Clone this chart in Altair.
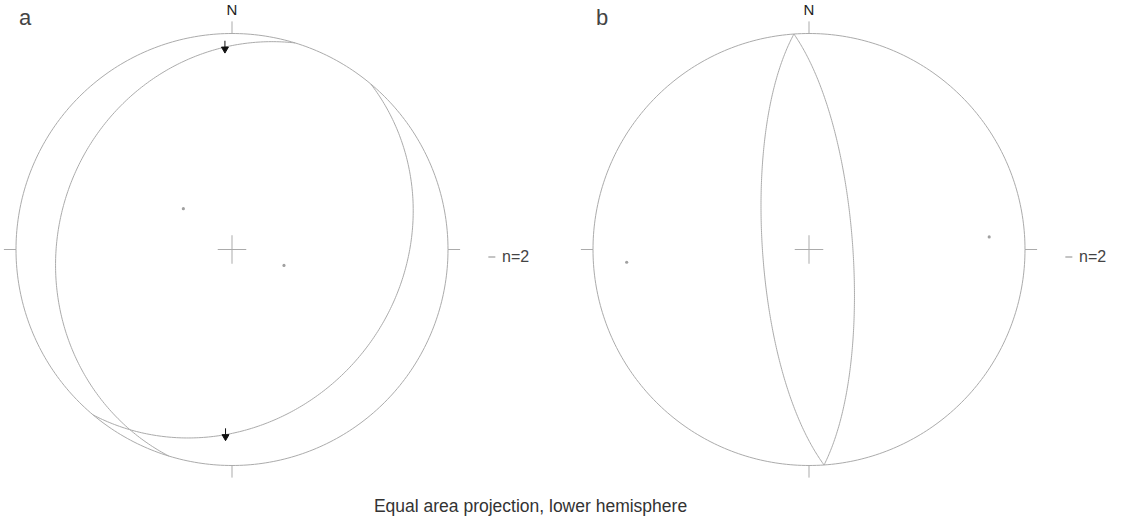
import numpy as np
import pandas as pd
import altair as alt

# ---- data -------------------------------------------------------------
# Fault planes as (dip direction, dip), lower-hemisphere equal-area nets
plane_panel = ["a", "a", "b", "b"]
plane_dipdir = [130, 287, 266, 86]
plane_dip = [24, 20.5, 72.5, 73.5]

# Slip lineations (trend) on the panel-a planes, shown with sense arrows
slip_plane = [0, 1]
slip_trend = [182, 358]

panel_names = ["a", "b"]
panel_counts = ["n=2", "n=2"]
caption = "Equal area projection, lower hemisphere"

# ---- layout (in units of the net radius) ------------------------------
W, H = 1127, 525
R_PX = 216.0
CX_PX = [232.0, 809.0]
CY_PX = 249.5
panel_x = {p: (cx - CX_PX[0]) / R_PX for p, cx in zip(panel_names, CX_PX)}
x_dom = [(0 - CX_PX[0]) / R_PX, (W - CX_PX[0]) / R_PX]
y_dom = [(CY_PX - H) / R_PX, CY_PX / R_PX]
TICK = 0.056
CROSS = 0.066


def project(trend, plunge):
    t = np.radians(trend)
    p = np.radians(plunge)
    r = np.sqrt(2.0) * np.sin((np.pi / 2 - p) / 2)
    return r * np.sin(t), r * np.cos(t)


def great_circle(dipdir, dip, n=241):
    a, d = np.radians(dipdir), np.radians(dip)
    s = np.array([np.sin(a - np.pi / 2), np.cos(a - np.pi / 2), 0.0])
    dv = np.array([np.sin(a) * np.cos(d), np.cos(a) * np.cos(d), -np.sin(d)])
    th = np.linspace(0, np.pi, n)
    v = np.outer(np.cos(th), s) + np.outer(np.sin(th), dv)
    plunge = np.degrees(np.arcsin(np.clip(-v[:, 2], -1, 1)))
    trend = np.degrees(np.arctan2(v[:, 0], v[:, 1]))
    return project(trend, plunge)


# curves: primitive circles + great circles
rows = []
for p in panel_names:
    ang = np.radians(np.linspace(0, 360, 361))
    for i, (x, y) in enumerate(zip(np.sin(ang), np.cos(ang))):
        rows.append({"id": f"prim_{p}", "o": i, "x": x + panel_x[p], "y": y})
for k, (p, dd, dp) in enumerate(zip(plane_panel, plane_dipdir, plane_dip)):
    gx, gy = great_circle(dd, dp)
    for i, (x, y) in enumerate(zip(gx, gy)):
        rows.append({"id": f"gc_{k}", "o": i, "x": x + panel_x[p], "y": y})
curves = pd.DataFrame(rows)

# short segments: cardinal ticks and centre crosses
seg = []
for p in panel_names:
    ox = panel_x[p]
    for dx, dy in [(0, 1), (1, 0), (0, -1), (-1, 0)]:
        seg.append({"x": ox + dx, "y": dy, "x2": ox + dx * (1 + TICK), "y2": dy * (1 + TICK)})
    seg.append({"x": ox - CROSS, "y": 0, "x2": ox + CROSS, "y2": 0})
    seg.append({"x": ox, "y": -CROSS, "x2": ox, "y2": CROSS})
segs = pd.DataFrame(seg)

# poles to planes
pole_rows = []
for p, dd, dp in zip(plane_panel, plane_dipdir, plane_dip):
    px, py = project((dd + 180) % 360, 90 - dp)
    pole_rows.append({"x": px + panel_x[p], "y": py})
poles = pd.DataFrame(pole_rows)

# slip arrows
arr_rows = []
for k, t in zip(slip_plane, slip_trend):
    dd, dp, p = plane_dipdir[k], plane_dip[k], plane_panel[k]
    pl = np.degrees(np.arctan(np.tan(np.radians(dp)) * np.cos(np.radians(t - dd))))
    ax_, ay_ = project(t, pl)
    arr_rows.append({"x": ax_ + panel_x[p], "y": ay_})
arrows = pd.DataFrame(arr_rows)

# text labels
north = pd.DataFrame({"x": [panel_x[p] for p in panel_names],
                      "y": [(CY_PX - 10) / R_PX] * 2, "t": ["N", "N"]})
letters = pd.DataFrame({"x": [panel_x[p] - 0.958 for p in panel_names],
                        "y": [(CY_PX - 18) / R_PX] * 2, "t": panel_names})
counts = pd.DataFrame({"x": [panel_x[p] + 1.25 for p in panel_names],
                       "y": [(CY_PX - 257) / R_PX] * 2, "t": panel_counts})
count_sym = pd.DataFrame({"x": [panel_x[p] + 1.203 for p in panel_names],
                          "y": [(CY_PX - 257) / R_PX] * 2})
cap = pd.DataFrame({"x": [(530.5 - CX_PX[0]) / R_PX], "y": [(CY_PX - 507) / R_PX], "t": [caption]})

xs = alt.Scale(domain=x_dom, nice=False, zero=False)
ys = alt.Scale(domain=y_dom, nice=False, zero=False)
X = alt.X("x:Q", scale=xs, axis=None)
Y = alt.Y("y:Q", scale=ys, axis=None)

LINE = "#ababab"
FONT = "Liberation Sans"

lines = alt.Chart(curves).mark_line(stroke=LINE, strokeWidth=1).encode(
    x=X, y=Y, detail="id:N", order="o:Q")
rules = alt.Chart(segs).mark_rule(stroke=LINE, strokeWidth=1).encode(
    x=X, y=Y, x2="x2:Q", y2="y2:Q")
pole_pts = alt.Chart(poles).mark_circle(color="#a0a0a0", size=10, opacity=1).encode(x=X, y=Y)
arrow_pts = alt.Chart(arrows).mark_point(
    shape="M0,-1L0,0M-0.55,0L0.55,0L0,0.95Z", size=160, filled=True,
    fill="#111111", stroke="#111111", strokeWidth=1, opacity=1).encode(x=X, y=Y)
north_txt = alt.Chart(north).mark_text(font=FONT, fontSize=15, color="#222222",
                                       baseline="middle", align="center").encode(x=X, y=Y, text="t:N")
letter_txt = alt.Chart(letters).mark_text(font=FONT, fontSize=22, color="#444444",
                                          baseline="middle", align="center").encode(x=X, y=Y, text="t:N")
count_txt = alt.Chart(counts).mark_text(font=FONT, fontSize=16, color="#444444",
                                        baseline="middle", align="left").encode(x=X, y=Y, text="t:N")
count_mark = alt.Chart(count_sym).mark_point(shape="stroke", size=49, stroke="#b0b0b0",
                                             strokeWidth=1.5, opacity=1).encode(x=X, y=Y)
cap_txt = alt.Chart(cap).mark_text(font=FONT, fontSize=17.5, color="#333333",
                                   baseline="middle", align="center").encode(x=X, y=Y, text="t:N")

chart = alt.layer(lines, rules, pole_pts, arrow_pts, north_txt, letter_txt,
                  count_txt, count_mark, cap_txt).properties(
    width=W, height=H, padding=0, autosize=alt.AutoSizeParams(type="none"),
    background="white"
).configure_view(stroke=None)

chart.save("out.html", embed_options={"renderer": "svg", "actions": False})
